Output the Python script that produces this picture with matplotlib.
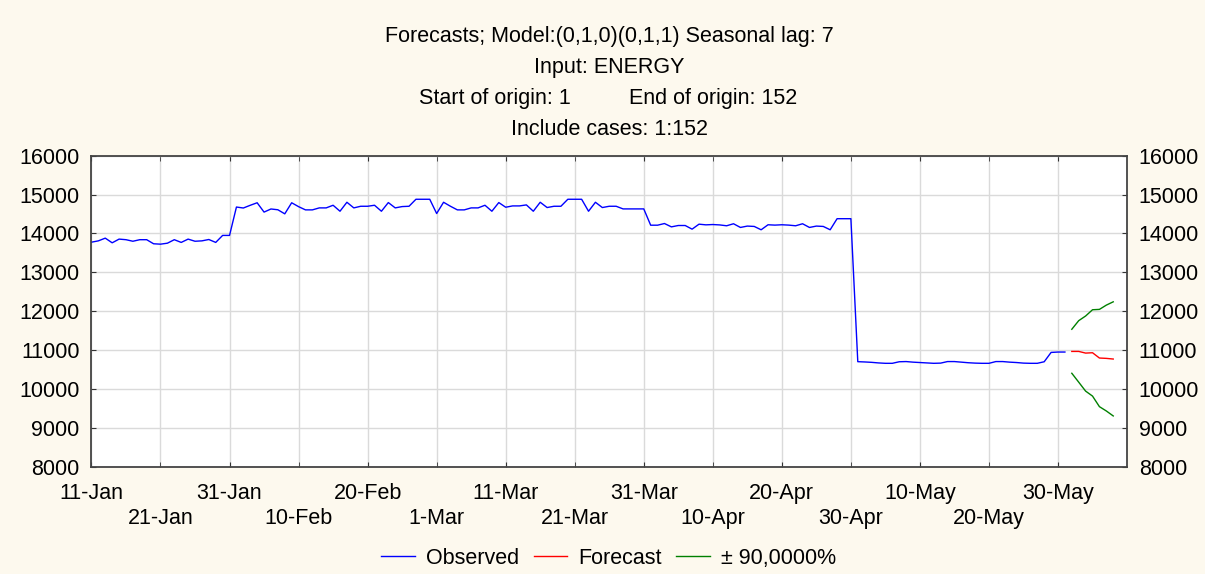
import matplotlib
matplotlib.use('Agg')
import matplotlib.pyplot as plt
import pandas as pd

plt.rcParams['font.family'] = ['Liberation Sans', 'DejaVu Sans']

# Observed ENERGY values, one per day from 11-Jan (case 11) to 31-May (case 152)
observed = [
    13776, 13810, 13880, 13760, 13855, 13840, 13800, 13840, 13840, 13735,
    13725, 13750, 13840, 13770, 13855, 13800, 13810, 13845, 13770, 13950,
    13950,
    14680, 14655, 14725, 14790, 14550, 14630, 14610, 14505, 14790, 14690,
    14607, 14607, 14658, 14658, 14726, 14572, 14803, 14658, 14700, 14700,
    14726, 14572, 14795, 14658, 14692, 14700, 14880, 14880, 14880, 14513,
    14803, 14700, 14607, 14607, 14658, 14658, 14726, 14572, 14795, 14675,
    14709, 14709, 14735, 14572, 14803, 14667, 14700, 14700, 14880, 14880,
    14880, 14572, 14803, 14667, 14700, 14700, 14632, 14632, 14632, 14632,
    14213, 14213, 14256, 14170, 14205, 14205, 14111, 14239, 14222, 14230,
    14220,
    14198, 14250, 14155, 14190, 14181, 14095, 14224, 14215, 14224, 14215,
    14198, 14250, 14155, 14190, 14181, 14095, 14380, 14380, 14380,
    10702, 10695, 10685, 10670, 10660, 10660, 10700, 10705, 10690, 10680,
    10670, 10660, 10665, 10705, 10705, 10690, 10675, 10665, 10660, 10660,
    10705, 10705, 10690, 10680, 10665, 10660, 10660, 10700, 10940, 10950,
    10950,
]
forecast = [10966, 10966, 10923, 10932, 10796, 10787, 10770]
upper = [11536, 11757, 11877, 12038, 12047, 12157, 12242]
lower = [10404, 10175, 9945, 9817, 9545, 9434, 9306]

obs_dates = pd.date_range('2008-01-11', periods=len(observed), freq='D')
fc_dates = pd.date_range('2008-06-01', periods=len(forecast), freq='D')
tick_dates = pd.date_range('2008-01-11', periods=15, freq='10D')
tick_labels = [f"{d.day}-{d.strftime('%b')}" for d in tick_dates]

title_lines = [
    'Forecasts; Model:(0,1,0)(0,1,1) Seasonal lag: 7',
    'Input: ENERGY',
    None,
    'Include cases: 1:152',
]

bg = '#fdf9ee'
fs = 15.5

fig = plt.figure(figsize=(12.05, 5.74), dpi=100, facecolor=bg)
ax = fig.add_axes([0.0759, 0.1869, 0.8594, 0.5418])
ax.set_facecolor('white')

ax.plot(obs_dates, observed, color='#0000ff', lw=1.0, label='Observed')
ax.plot(fc_dates, forecast, color='#ff0000', lw=1.0, label='Forecast')
ax.plot(fc_dates, upper, color='#008000', lw=1.0, label='\u00b1 90,0000%')
ax.plot(fc_dates, lower, color='#008000', lw=1.0)

ax.set_xlim(pd.Timestamp('2008-01-11'), pd.Timestamp('2008-06-09'))
ax.set_ylim(8000, 16000)
ax.set_yticks(range(8000, 16001, 1000))

# two rows of date labels: even ticks on top row, odd ones below
ax.set_xticks(tick_dates[::2])
ax.set_xticklabels(tick_labels[::2])
ax.set_xticks(tick_dates[1::2], minor=True)
ax.set_xticklabels(tick_labels[1::2], minor=True)

ax.tick_params(axis='x', which='major', direction='in', length=3.5, pad=12,
               labelsize=fs, top=True, color='#333333')
ax.tick_params(axis='x', which='minor', direction='in', length=3.5, pad=29.5,
               labelsize=fs, top=True, color='#333333')
ax.tick_params(axis='y', direction='in', length=3.5, pad=8.5, labelsize=fs,
               right=True, labelright=True, color='#333333')

ax.grid(True, which='both', color='#dadada', lw=1.0)
ax.set_axisbelow(True)
for s in ax.spines.values():
    s.set_color('#444444')
    s.set_linewidth(1.3)

# title block
ys = [0.936, 0.882, 0.828, 0.774]
cx = 0.0759 + 0.8594 / 2
for line, y in zip(title_lines, ys):
    if line:
        fig.text(cx, y, line, ha='center', va='center', fontsize=fs)
fig.text(0.474, ys[2], 'Start of origin: 1', ha='right', va='center', fontsize=fs)
fig.text(0.522, ys[2], 'End of origin: 152', ha='left', va='center', fontsize=fs)

fig.legend(loc='center', bbox_to_anchor=(0.505, 0.027), ncol=3, frameon=False,
           fontsize=fs, handlelength=1.55, handletextpad=0.5, columnspacing=0.7)

fig.savefig('out.png', dpi=100, facecolor=bg)
